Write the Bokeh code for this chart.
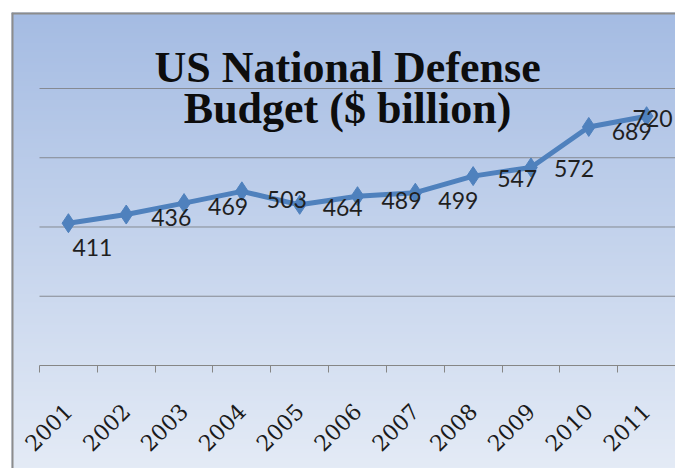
import math
import numpy as np
from bokeh.plotting import figure
from bokeh.models import Range1d, LinearAxis, FixedTicker, Span, Label, ColumnDataSource
from bokeh.core.properties import value
from bokeh.embed import file_html
from bokeh.resources import INLINE

# ---- data ----
years = [2001, 2002, 2003, 2004, 2005, 2006, 2007, 2008, 2009, 2010, 2011]
year_labels = ["2001", "2002", "2003", "2004", "2005", "2006", "2007", "2008", "2009", "2010", "2011"]
budget = [411, 436, 469, 503, 464, 489, 499, 547, 572, 689, 720]
grid_values = [200, 400, 600, 800]
title_lines = ["US National Defense", "Budget ($ billion)"]

# label placement offsets (screen px), as in the original chart
label_dx = [24, 45, 44, 45, 43, 44, 43, 44, 43, 43, 6]
label_dy = [24, 3, 3, 8, 3, 4, 8, 2, 1, 5, 2]

W, H = 675, 468
BL, BT = 11, 12

x_lo, x_hi = years[0] - 0.5, years[-1] + 0.5
x_start = x_lo - 28 / 57.8
x_end = x_hi
y_start, y_end = -297.5, 1019.5

p = figure(width=W, height=H, output_backend="svg", toolbar_location=None,
           x_axis_type=None, y_axis_type=None,
           x_range=Range1d(x_start, x_end), y_range=Range1d(y_start, y_end),
           min_border_left=BL, min_border_top=BT, min_border_right=0, min_border_bottom=0)
p.outline_line_color = None
p.border_fill_color = "white"
p.background_fill_color = "#c4d4ec"

# vertical gradient background
top = np.array([165, 188, 227])
bot = np.array([228, 235, 246])
n = 256
t = np.linspace(0, 1, n)[:, None]
cols = (bot * (1 - t) + top * t).astype(np.uint32)  # row 0 = bottom
img = np.empty((n, 1), dtype=np.uint32)
view = img.view(dtype=np.uint8).reshape((n, 1, 4))
view[:, 0, 0] = cols[:, 0]
view[:, 0, 1] = cols[:, 1]
view[:, 0, 2] = cols[:, 2]
view[:, 0, 3] = 255
p.image_rgba(image=[img], x=x_start, y=y_start, dw=x_end - x_start, dh=y_end - y_start)

# gridlines (only across the plot area)
p.segment(x0=[x_lo] * len(grid_values), x1=[x_hi] * len(grid_values),
          y0=grid_values, y1=grid_values, line_color="#858a92", line_width=1)

# category-boundary axis with tick marks
bounds = [y - 0.5 for y in years] + [years[-1] + 0.5]
ax_ticks = LinearAxis(ticker=FixedTicker(ticks=bounds), fixed_location=0, bounds=(x_lo, x_hi))
ax_ticks.axis_line_color = "#868686"
ax_ticks.axis_line_width = 1
ax_ticks.major_tick_line_color = "#868686"
ax_ticks.major_tick_in = 0
ax_ticks.major_tick_out = 7
ax_ticks.minor_tick_line_color = None
ax_ticks.major_label_text_color = None
ax_ticks.major_label_text_font_size = "1px"
p.add_layout(ax_ticks, "below")

# year label axis
ax_lab = LinearAxis(ticker=FixedTicker(ticks=years), fixed_location=0,
                    major_label_overrides={y: s for y, s in zip(years, year_labels)})
ax_lab.axis_line_color = None
ax_lab.major_tick_line_color = None
ax_lab.minor_tick_line_color = None
ax_lab.major_label_orientation = math.pi / 4
ax_lab.major_label_standoff = 36
ax_lab.major_label_text_font = "DejaVu Serif"
ax_lab.major_label_text_font_size = "22px"
ax_lab.major_label_text_color = "#1a1a1a"
p.add_layout(ax_lab, "below")

# border lines (top / left)
p.add_layout(Span(location=x_start, dimension="height", line_color="#8c8c8c", line_width=4))
p.add_layout(Span(location=y_end, dimension="width", line_color="#8c8c8c", line_width=4))

src = ColumnDataSource(dict(x=years, y=budget, lab=[str(v) for v in budget],
                            dx=label_dx, dy=label_dy))
p.line("x", "y", source=src, line_color="#4f81bd", line_width=5)
p.scatter("x", "y", source=src, marker="diamond", size=19, fill_color="#4f81bd", line_color="#4f81bd")
p.text("x", "y", text="lab", source=src, x_offset="dx", y_offset="dy",
       text_align="center", text_baseline="middle",
       text_font=value("Lato"), text_font_size="23px", text_color="#1f1f1f")

# title (drawn inside the chart area, as in the original)
tx = x_start + 336 / 57.8
p.add_layout(Label(x=tx, y=860.6, text=title_lines[0], text_align="center", text_baseline="alphabetic",
                   text_font="Liberation Serif", text_font_style="bold", text_font_size="44px",
                   text_color="#0d0d0d"))
p.add_layout(Label(x=tx, y=742.2, text=title_lines[1], text_align="center", text_baseline="alphabetic",
                   text_font="Liberation Serif", text_font_style="bold", text_font_size="44px",
                   text_color="#0d0d0d"))

open("out.html", "w").write(file_html(p, INLINE))
